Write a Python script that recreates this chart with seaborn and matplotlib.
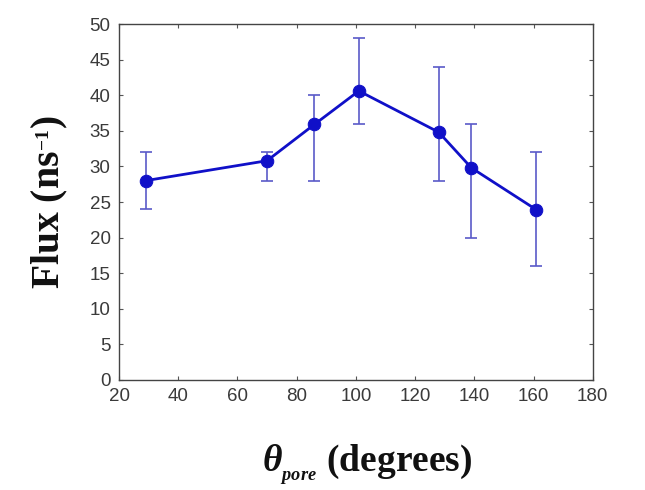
import numpy as np
import pandas as pd
import matplotlib
matplotlib.use("Agg")
import matplotlib.pyplot as plt
import seaborn as sns

# values
theta_pore = [29, 70, 86, 101, 128, 139, 161]
flux = [28.0, 30.8, 35.9, 40.6, 34.8, 29.8, 23.9]
flux_low = [24, 28, 28, 36, 28, 20, 16]
flux_high = [32, 32, 40, 48, 44, 36, 32]
x_ticks = [20, 40, 60, 80, 100, 120, 140, 160, 180]
y_ticks = [0, 5, 10, 15, 20, 25, 30, 35, 40, 45, 50]

sns.set_theme(style="ticks")
plt.rcParams['font.family'] = ['Liberation Sans', 'DejaVu Sans']
plt.rcParams['mathtext.fontset'] = 'custom'
plt.rcParams['mathtext.rm'] = 'Liberation Serif:bold'
plt.rcParams['mathtext.it'] = 'Liberation Serif:italic:bold'
plt.rcParams['mathtext.bf'] = 'Liberation Serif:bold'

df = pd.DataFrame({"theta": theta_pore, "flux": flux})
err = np.array([np.array(flux) - np.array(flux_low),
                np.array(flux_high) - np.array(flux)])

fig = plt.figure(figsize=(6.45, 4.9), dpi=100)
ax = fig.add_axes([0.1845, 0.2245, 0.7345, 0.7265])

ax.errorbar(df["theta"], df["flux"], yerr=err, fmt="none",
            ecolor="#5a5ac8", elinewidth=1.2, capsize=4, capthick=1.2, zorder=2)
sns.lineplot(data=df, x="theta", y="flux", ax=ax, color="#1010c8",
             linewidth=2, marker="o", markersize=9, markeredgecolor="#1010c8",
             zorder=3)

ax.set_xlim(20, 180)
ax.set_ylim(0, 50)
ax.set_xticks(x_ticks)
ax.set_yticks(y_ticks)
ax.tick_params(direction="in", length=3, width=0.8, top=True, right=True,
               labelsize=13.5, labelcolor="#3a3a3a", color="#555555", pad=6)
for s in ax.spines.values():
    s.set_linewidth(1.0)
    s.set_color("#444444")

ax.set_ylabel("Flux (ns$^{_{-1}}$)", fontsize=28.5, fontweight="bold",
              family="Liberation Serif", color="#111111", labelpad=14)
ax.set_xlabel(r"$\theta_{_{pore}}$ (degrees)", fontsize=27, fontweight="bold",
              family="Liberation Serif", color="#111111", labelpad=27)
ax.xaxis.label.set_x(0.523)

fig.savefig("out.png", dpi=100)
